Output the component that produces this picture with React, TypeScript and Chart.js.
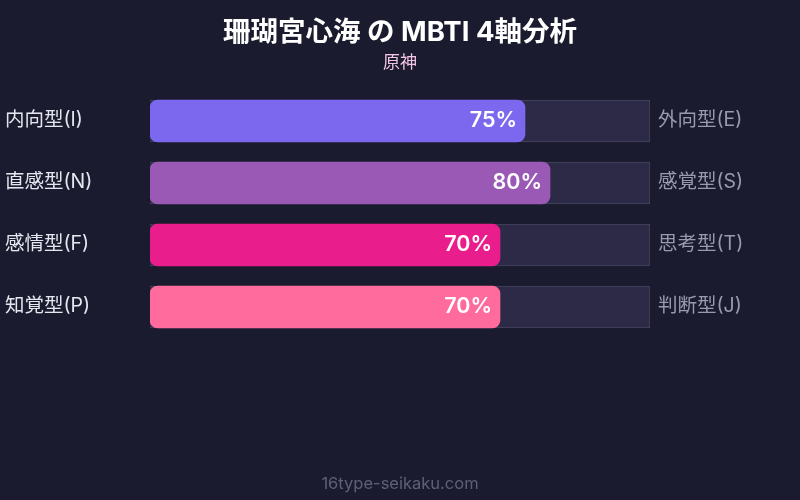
import { useEffect, useRef } from "react";
import { Chart, registerables, Plugin } from "chart.js";

Chart.register(...registerables);

const leftLabels = ["内向型(I)", "直感型(N)", "感情型(F)", "知覚型(P)"];
const rightLabels = ["外向型(E)", "感覚型(S)", "思考型(T)", "判断型(J)"];
const scores = [75, 80, 70, 70];
const track = [100, 100, 100, 100];
const barColors = ["#7b68ee", "#9b59b6", "#e91e8c", "#ff6b9d"];

const FONT = "Inter, 'Noto Sans CJK JP', sans-serif";

const textPlugin: Plugin<"bar"> = {
  id: "mbtiText",
  afterDatasetsDraw(chart) {
    const { ctx } = chart;
    const meta = chart.getDatasetMeta(0);
    ctx.save();
    ctx.textBaseline = "middle";

    // title + subtitle
    ctx.textAlign = "center";
    ctx.fillStyle = "#ffffff";
    ctx.font = `bold 27.5px ${FONT}`;
    ctx.fillText("珊瑚宮心海 の MBTI 4軸分析", 400, 33);
    ctx.fillStyle = "#f3c4e4";
    ctx.font = `17px ${FONT}`;
    ctx.fillText("原神", 400, 63);

    meta.data.forEach((bar: any, i) => {
      ctx.textAlign = "left";
      ctx.font = `19.5px ${FONT}`;
      ctx.fillStyle = "#e6e6f0";
      ctx.fillText(leftLabels[i], 5, bar.y - 1);
      ctx.fillStyle = "#9a9aae";
      ctx.fillText(rightLabels[i], 658, bar.y - 1);

      ctx.textAlign = "right";
      ctx.fillStyle = "#ffffff";
      ctx.font = `600 21.5px ${FONT}`;
      ctx.fillText(scores[i] + "%", bar.x - 8, bar.y);
    });

    ctx.textAlign = "center";
    ctx.fillStyle = "#5f6078";
    ctx.font = `16.5px ${FONT}`;
    ctx.fillText("16type-seikaku.com", 400, 484);
    ctx.restore();
  },
};

const MbtiChart = () => {
  const chartRef = useRef<HTMLCanvasElement | null>(null);

  useEffect(() => {
    const ctx = chartRef.current?.getContext("2d");
    if (!ctx) return;

    const chart = new Chart(ctx, {
      type: "bar",
      data: {
        labels: leftLabels,
        datasets: [
          {
            data: scores,
            backgroundColor: barColors,
            borderRadius: 8,
            borderSkipped: false,
            barThickness: 42,
            grouped: false,
          },
          {
            data: track,
            backgroundColor: "#2c2a47",
            borderColor: "#47455f",
            borderWidth: 1,
            barThickness: 42,
            grouped: false,
          },
        ],
      },
      options: {
        indexAxis: "y",
        animation: false,
        responsive: false,
        layout: { padding: { left: 150, right: 150, top: 90, bottom: 162 } },
        scales: {
          x: { display: false, min: 0, max: 100 },
          y: { display: false },
        },
        plugins: {
          legend: { display: false },
          tooltip: { enabled: false },
        },
      },
      plugins: [textPlugin],
    });

    return () => {
      chart.destroy();
    };
  }, []);

  return <canvas ref={chartRef} width={800} height={500}></canvas>;
};

export default function App() {
  return (
    <div
      style={{
        position: "fixed",
        left: 0,
        top: 0,
        width: 800,
        height: 500,
        background: "#1a1b2e",
      }}
    >
      <MbtiChart />
    </div>
  );
}
